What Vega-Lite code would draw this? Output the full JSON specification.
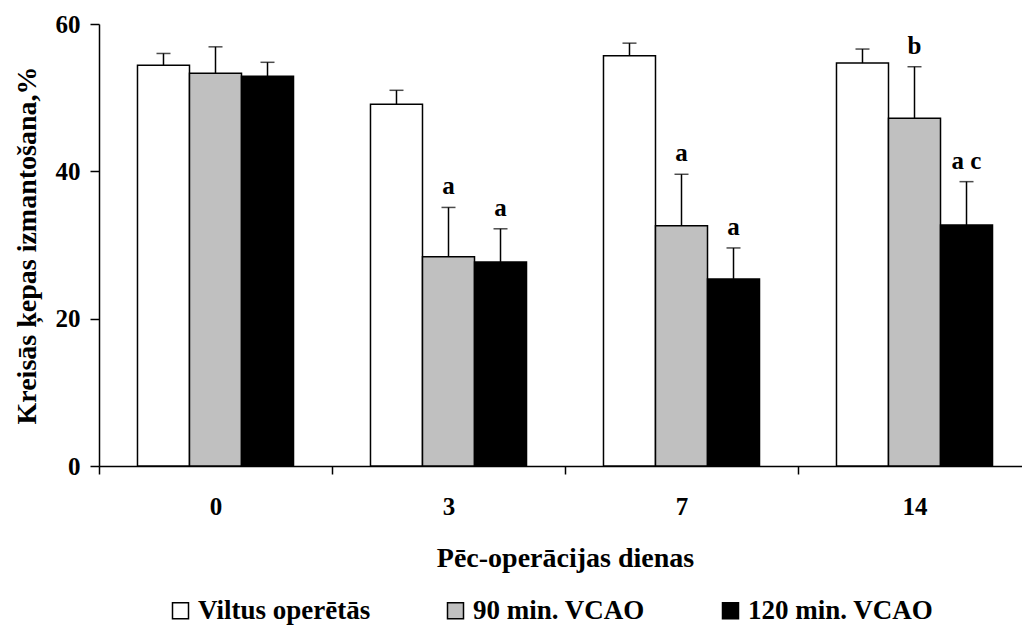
{
  "$schema": "https://vega.github.io/schema/vega-lite/v6.json",
  "autosize": {"type": "none"},
  "width": 922,
  "height": 442,
  "padding": {"left": 99, "top": 24, "right": 1, "bottom": 160},
  "background": "white",
  "config": {
    "font": "Liberation Serif",
    "view": {"stroke": null},
    "axis": {
      "grid": false,
      "domainColor": "black",
      "domainWidth": 1.5,
      "tickColor": "black",
      "tickWidth": 1.5,
      "labelColor": "black",
      "titleColor": "black",
      "labelFont": "Liberation Serif",
      "titleFont": "Liberation Serif",
      "labelFontWeight": "bold",
      "titleFontWeight": "bold"
    },
    "legend": {
      "labelFont": "Liberation Serif",
      "labelFontWeight": "bold",
      "labelColor": "black"
    }
  },
  "data": {
    "values": [
      {"day": "0", "group": "Viltus operētās", "value": 54.4, "upper": 56.0, "sig": ""},
      {"day": "0", "group": "90 min. VCAO", "value": 53.3, "upper": 56.9, "sig": ""},
      {"day": "0", "group": "120 min. VCAO", "value": 52.9, "upper": 54.8, "sig": ""},
      {"day": "3", "group": "Viltus operētās", "value": 49.1, "upper": 51.0, "sig": ""},
      {"day": "3", "group": "90 min. VCAO", "value": 28.4, "upper": 35.1, "sig": "a"},
      {"day": "3", "group": "120 min. VCAO", "value": 27.7, "upper": 32.2, "sig": "a"},
      {"day": "7", "group": "Viltus operētās", "value": 55.7, "upper": 57.4, "sig": ""},
      {"day": "7", "group": "90 min. VCAO", "value": 32.6, "upper": 39.6, "sig": "a"},
      {"day": "7", "group": "120 min. VCAO", "value": 25.4, "upper": 29.6, "sig": "a"},
      {"day": "14", "group": "Viltus operētās", "value": 54.7, "upper": 56.6, "sig": ""},
      {"day": "14", "group": "90 min. VCAO", "value": 47.2, "upper": 54.2, "sig": "b"},
      {"day": "14", "group": "120 min. VCAO", "value": 32.7, "upper": 38.6, "sig": "a c"}
    ]
  },
  "encoding": {
    "x": {
      "field": "day",
      "type": "ordinal",
      "sort": ["0", "3", "7", "14"],
      "scale": {"range": [0, 932], "paddingInner": 0, "paddingOuter": 0},
      "axis": {
        "title": "Pēc-operācijas dienas",
        "labelAngle": 0,
        "tickBand": "extent",
        "tickSize": 8,
        "labelPadding": 20,
        "labelFontSize": 25,
        "titleFontSize": 28,
        "titlePadding": 25
      }
    },
    "xOffset": {
      "field": "group",
      "type": "nominal",
      "sort": ["Viltus operētās", "90 min. VCAO", "120 min. VCAO"],
      "scale": {"paddingOuter": 0.74, "paddingInner": 0}
    }
  },
  "layer": [
    {
      "mark": {"type": "bar", "stroke": "black", "strokeWidth": 1.5},
      "encoding": {
        "y": {
          "field": "value",
          "type": "quantitative",
          "scale": {"domain": [0, 60], "nice": false},
          "axis": {
            "title": "Kreisās ķepas izmantošana,%",
            "values": [0, 20, 40, 60],
            "tickSize": 9,
            "labelPadding": 10,
            "labelFontSize": 25,
            "titleFontSize": 28,
            "titlePadding": 14
          }
        },
        "color": {
          "field": "group",
          "type": "nominal",
          "sort": ["Viltus operētās", "90 min. VCAO", "120 min. VCAO"],
          "scale": {
            "domain": ["Viltus operētās", "90 min. VCAO", "120 min. VCAO"],
            "range": ["#ffffff", "#c0c0c0", "#000000"]
          },
          "legend": {
            "title": null,
            "orient": "none",
            "direction": "horizontal",
            "legendX": 68,
            "legendY": 573,
            "padding": 0,
            "symbolType": "square",
            "symbolSize": 256,
            "symbolStrokeColor": "black",
            "symbolStrokeWidth": 1.5,
            "symbolOpacity": 1,
            "labelFontSize": 27,
            "labelLimit": 400,
            "labelOffset": 4,
            "columnPadding": 58,
            "gridAlign": "all"
          }
        }
      }
    },
    {
      "mark": {"type": "rule", "color": "black", "strokeWidth": 1.5},
      "encoding": {
        "y": {"field": "value", "type": "quantitative"},
        "y2": {"field": "upper"}
      }
    },
    {
      "mark": {"type": "tick", "color": "black", "orient": "horizontal", "size": 14, "thickness": 1.5},
      "encoding": {
        "y": {"field": "upper", "type": "quantitative"}
      }
    },
    {
      "transform": [{"filter": "datum.sig != ''"}],
      "mark": {"type": "text", "fontWeight": "bold", "fontSize": 25, "baseline": "alphabetic", "dy": -13, "color": "black"},
      "encoding": {
        "y": {"field": "upper", "type": "quantitative"},
        "text": {"field": "sig"}
      }
    }
  ]
}
